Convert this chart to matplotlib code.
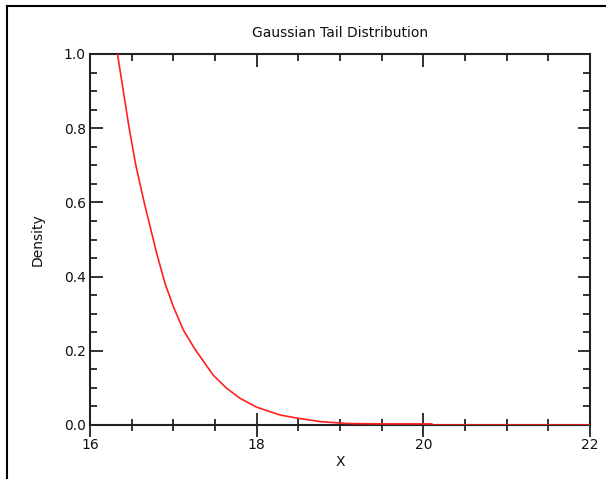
import matplotlib

matplotlib.use("Agg")
import matplotlib.pyplot as plt
from matplotlib.lines import Line2D
from matplotlib.ticker import MultipleLocator, FormatStrFormatter

# values
x_vals = [16.31, 16.33, 16.47, 16.55, 16.65, 16.80, 16.90, 17.00, 17.12,
          17.26, 17.48, 17.64, 17.80, 18.00, 18.28, 18.50, 18.77, 19.09, 19.50,
          20.10, 20.12, 22.0]
density = [1.02, 1.0, 0.80, 0.70, 0.60, 0.463, 0.382, 0.319, 0.256,
           0.204, 0.134, 0.099, 0.072, 0.048, 0.027, 0.018, 0.009, 0.004, 0.003,
           0.003, 0.0, 0.0]

TITLE = "Gaussian Tail Distribution"
X_LABEL = "X"
Y_LABEL = "Density"

plt.rcParams["font.family"] = ["DejaVu Sans"]
AXIS_COLOR = "#222222"

fig = plt.figure(figsize=(6.06, 4.79), dpi=100)
fig.patch.set_facecolor("white")
ax = fig.add_axes([90 / 606, 54 / 479, 500 / 606, 371 / 479])

ax.plot(x_vals, density, color="#ff2020", linewidth=1.2, zorder=3)

ax.set_xlim(16, 22)
ax.set_ylim(0, 1.0)
ax.xaxis.set_major_locator(MultipleLocator(2))
ax.xaxis.set_minor_locator(MultipleLocator(0.5))
ax.yaxis.set_major_locator(MultipleLocator(0.2))
ax.yaxis.set_minor_locator(MultipleLocator(0.05))
ax.yaxis.set_major_formatter(FormatStrFormatter("%.1f"))

ax.tick_params(which="both", direction="in", right=True,
               color=AXIS_COLOR, width=1.3, labelsize=10, labelcolor="#111111")
ax.tick_params(axis="y", which="major", length=9, pad=3)
ax.tick_params(axis="y", which="minor", length=5)
# bottom ticks cross the axis line in the reference, top ones point inward
ax.tick_params(axis="x", which="major", direction="inout", length=17, pad=1, top=False)
ax.tick_params(axis="x", which="minor", direction="inout", length=8, top=False)

top = ax.secondary_xaxis("top")
top.xaxis.set_major_locator(MultipleLocator(2))
top.xaxis.set_minor_locator(MultipleLocator(0.5))
top.tick_params(which="both", direction="in", color=AXIS_COLOR, width=1.3, labeltop=False)
top.tick_params(which="major", length=9)
top.tick_params(which="minor", length=5)
top.spines["top"].set_visible(False)

for side in ax.spines.values():
    side.set_color(AXIS_COLOR)
    side.set_linewidth(1.5)
    side.set_zorder(2)

ax.set_title(TITLE, fontsize=10, pad=12, color="#111111")
ax.set_xlabel(X_LABEL, fontsize=10, labelpad=2, color="#111111")
ax.set_ylabel(Y_LABEL, fontsize=10, labelpad=14, color="#111111")

# outer frame (left and top edges of the window)
fig.add_artist(Line2D([7 / 606, 7 / 606], [0, 1 - 6 / 479], transform=fig.transFigure,
                      color="black", linewidth=1.5))
fig.add_artist(Line2D([7 / 606, 1], [1 - 6 / 479, 1 - 6 / 479], transform=fig.transFigure,
                      color="black", linewidth=1.5))

fig.savefig("out.png", dpi=100)
